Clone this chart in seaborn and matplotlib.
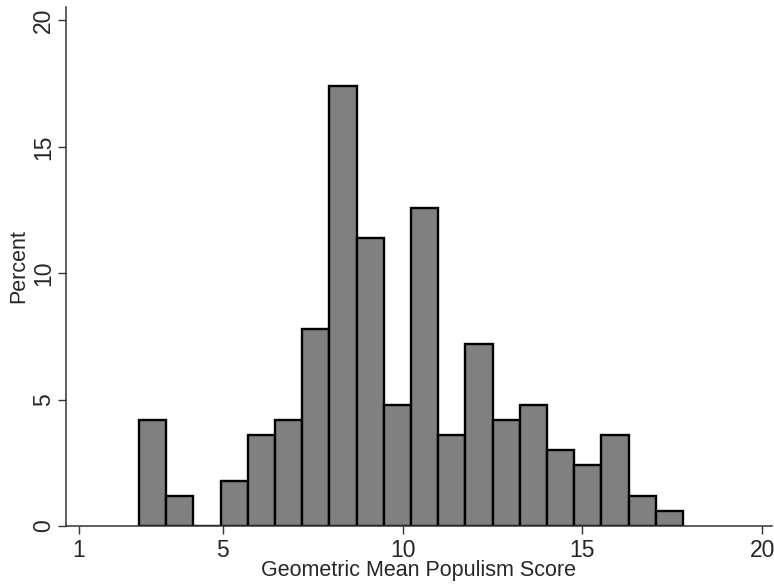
import numpy as np
import pandas as pd
import seaborn as sns
import matplotlib
matplotlib.use("Agg")
import matplotlib.pyplot as plt

# bin midpoints (score) and percent in each bin
bin_mid = [3.05, 3.80, 4.56, 5.32, 6.07, 6.83, 7.59, 8.34, 9.10, 9.86,
           10.61, 11.37, 12.13, 12.88, 13.64, 14.40, 15.15, 15.91, 16.67, 17.42]
percent = [4.2, 1.2, 0.0, 1.8, 3.6, 4.2, 7.8, 17.4, 11.4, 4.8,
           12.6, 3.6, 7.2, 4.2, 4.8, 3.0, 2.4, 3.6, 1.2, 0.6]
x_ticks = [1, 5, 10, 15, 20]
y_ticks = [0, 5, 10, 15, 20]

df = pd.DataFrame({'score': bin_mid, 'percent': percent})

sns.set_style('ticks')
plt.rcParams['font.family'] = ['Liberation Sans', 'DejaVu Sans']

fig = plt.figure(figsize=(7.74, 5.87), dpi=100)
ax = fig.add_axes([0.0853, 0.1039, 0.912, 0.884])

sns.histplot(data=df, x='score', weights='percent', bins=20, binrange=(2.67, 17.80),
             color='#808080', edgecolor='black', linewidth=1.7, alpha=1, ax=ax)

ax.set_xlim(0.64, 20.27)
ax.set_ylim(0, 20.53)
ax.set_xticks(x_ticks)
ax.set_yticks(y_ticks)
ax.set_yticklabels([str(v) for v in y_ticks], rotation=90, va='center')
ax.tick_params(axis='both', labelsize=16.5, length=6, width=1, color='#333333', direction='out')
ax.tick_params(axis='x', pad=3)
ax.tick_params(axis='y', pad=2)
ax.set_xlabel('Geometric Mean Populism Score', fontsize=15.5, labelpad=-1)
ax.set_ylabel('Percent', fontsize=15.5, labelpad=2)
for s in ['top', 'right']:
    ax.spines[s].set_visible(False)
for s in ['left', 'bottom']:
    ax.spines[s].set_linewidth(1.1)
    ax.spines[s].set_color('#333333')

fig.savefig('out.png', dpi=100)
